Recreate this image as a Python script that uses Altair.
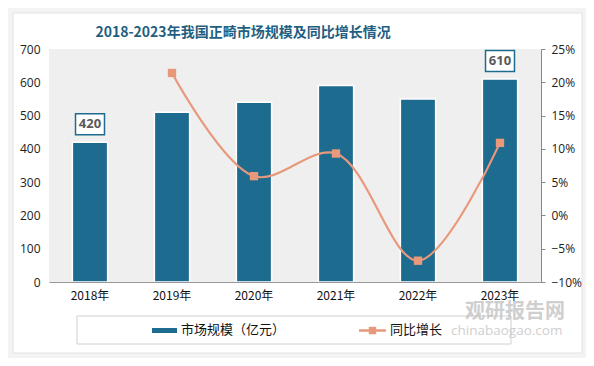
import altair as alt
import pandas as pd

years = ["2018年", "2019年", "2020年", "2021年", "2022年", "2023年"]
market_size = [420, 510, 540, 590, 550, 610]
yoy_growth = [None, 0.214, 0.059, 0.093, -0.068, 0.109]
label_years = ["2018年", "2023年"]

title_text = "2018-2023年我国正畸市场规模及同比增长情况"
bar_legend = "市场规模（亿元）"
line_legend = "同比增长"

BAR = "#1D6B8F"
LINE = "#E9997B"
FONT = "Noto Sans CJK SC"

df = pd.DataFrame({"year": years, "size": market_size, "growth": yoy_growth})
df_line = df.dropna(subset=["growth"])
df_lab = df[df["year"].isin(label_years)]

W, H = 492, 233

x = alt.X("year:N", sort=years, title=None,
          scale=alt.Scale(paddingInner=0.57, paddingOuter=0.285),
          axis=alt.Axis(labelAngle=0, domain=True, domainColor="#999999", ticks=False, zindex=1,
                        labelFontSize=12, labelColor="#111111", labelPadding=8, labelFont=FONT))

y_bar = alt.Y("size:Q", title=None, scale=alt.Scale(domain=[0, 700], nice=False),
              axis=alt.Axis(values=list(range(0, 701, 100)), domain=False, ticks=False, grid=False, zindex=1,
                            labelFontSize=12, labelColor="#222222", labelPadding=9, labelFont="Open Sans"))

y_line = alt.Y("growth:Q", title=None, scale=alt.Scale(domain=[-0.10, 0.25], nice=False, zero=False),
               axis=alt.Axis(orient="right", format=".0%", values=[-0.10, -0.05, 0, 0.05, 0.10, 0.15, 0.20, 0.25],
                             domain=True, domainColor="#888888", ticks=True, tickColor="#888888", tickSize=4,
                             grid=False, zindex=1, labelFontSize=12, labelColor="#222222", labelPadding=6,
                             labelFont="Open Sans"))

base = alt.Chart(df)
one = pd.DataFrame({"a": [0]})

card = alt.Chart(one).mark_rect(fill="white", stroke="#e2e2e2").encode(
    x=alt.value(-36), x2=alt.value(533), y=alt.value(-36), y2=alt.value(304))
plotbg = alt.Chart(one).mark_rect(fill="#efefef").encode(
    x=alt.value(0), x2=alt.value(W), y=alt.value(0), y2=alt.value(H))
title = alt.Chart(one).mark_text(text=title_text, align="center", baseline="middle", fontSize=14,
                                 fontWeight="bold", font=FONT, color="#1F5F82").encode(
    x=alt.value(194), y=alt.value(-16))

bars = base.mark_bar(color=BAR, stroke="white", strokeWidth=1.5).encode(x=x, y=y_bar)
lab_box = alt.Chart(df_lab).mark_point(
    shape="M-1.38,-1L1.38,-1L1.38,1L-1.38,1Z", size=441, filled=True, fill="white",
    stroke=BAR, strokeWidth=1.5, opacity=1, yOffset=-18).encode(x=x, y=y_bar)
lab_txt = alt.Chart(df_lab).mark_text(
    fontSize=13, fontWeight="bold", color="#595959", font="Open Sans", yOffset=-18).encode(
    x=x, y=y_bar, text=alt.Text("size:Q"))

line = alt.Chart(df_line).mark_line(color=LINE, strokeWidth=2.2, interpolate="catmull-rom").encode(
    x=x, y=y_line)
pts = alt.Chart(df_line).mark_point(shape="square", size=70, filled=True, color=LINE, opacity=1).encode(
    x=x, y=y_line)

# legend
leg_box = alt.Chart(one).mark_rect(fill="white", stroke="#d0d0d0", strokeWidth=1).encode(
    x=alt.value(28), x2=alt.value(462), y=alt.value(267), y2=alt.value(295))
leg_bar = alt.Chart(one).mark_rect(fill=BAR).encode(
    x=alt.value(103), x2=alt.value(128), y=alt.value(279), y2=alt.value(284))
leg_line = alt.Chart(one).mark_rule(color=LINE, strokeWidth=2.5).encode(
    x=alt.value(310), x2=alt.value(337), y=alt.value(281.5))
leg_sq = alt.Chart(one).mark_point(shape="square", size=55, filled=True, color=LINE, opacity=1).encode(
    x=alt.value(323.5), y=alt.value(281.5))
leg_t1 = alt.Chart(one).mark_text(text=bar_legend, align="left", baseline="middle", fontSize=13,
                                  font=FONT, color="#111111").encode(x=alt.value(132), y=alt.value(281))
leg_t2 = alt.Chart(one).mark_text(text=line_legend, align="left", baseline="middle", fontSize=13,
                                  font=FONT, color="#111111").encode(x=alt.value(341), y=alt.value(281))

wm1 = alt.Chart(one).mark_text(text="观研报告网", align="left", baseline="middle", fontSize=20,
                               fontWeight="bold", font=FONT, color="#c4c4c4", opacity=0.8).encode(
    x=alt.value(416), y=alt.value(263))
wm2 = alt.Chart(one).mark_text(text="chinabaogao.com", align="left", baseline="middle", fontSize=13.5,
                               font="Open Sans", color="#c4c4c4", opacity=0.8).encode(
    x=alt.value(402), y=alt.value(282))

left = alt.layer(bars, lab_box, lab_txt)
right = alt.layer(line, pts)

chart = alt.layer(card, plotbg, title, left, right, leg_box, leg_bar, leg_line, leg_sq, leg_t1, leg_t2,
                  wm1, wm2).resolve_scale(
    y="independent"
).properties(
    width=W, height=H,
    autosize=alt.AutoSizeParams(type="none"),
    padding={"left": 41, "top": 41, "right": 45, "bottom": 76},
).configure_view(stroke=None).configure(background="#f3f3f3")

chart.save("out.html", embed_options={"renderer": "svg", "actions": False})
